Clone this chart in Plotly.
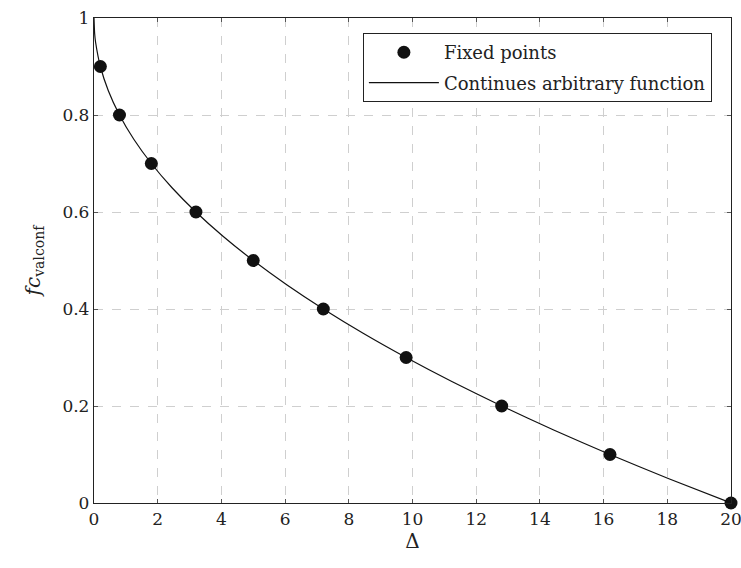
import plotly.graph_objects as go

# Fixed points (Δ, fc_valconf)
fixed_delta = [0.2, 0.8, 1.8, 3.2, 5.0, 7.2, 9.8, 12.8, 16.2, 20.0]
fixed_fc = [0.9, 0.8, 0.7, 0.6, 0.5, 0.4, 0.3, 0.2, 0.1, 0.0]

# Continuous curve samples
curve_delta = [0.0, 0.02, 0.05, 0.2, 0.45, 0.8, 1.25, 1.8, 2.45, 3.2, 4.05,
               5.0, 6.05, 7.2, 8.45, 9.8, 11.25, 12.8, 14.45, 16.2, 18.05, 20.0]
curve_fc = [1.0, 0.968, 0.95, 0.9, 0.85, 0.8, 0.75, 0.7, 0.65, 0.6, 0.55,
            0.5, 0.45, 0.4, 0.35, 0.3, 0.25, 0.2, 0.15, 0.1, 0.05, 0.0]

x_ticks = [0, 2, 4, 6, 8, 10, 12, 14, 16, 18, 20]
y_ticks = [0, 0.2, 0.4, 0.6, 0.8, 1]
y_tick_text = ["0", "0.2", "0.4", "0.6", "0.8", "1"]

FONT = "DejaVu Serif"

fig = go.Figure()
fig.add_trace(go.Scatter(
    x=fixed_delta, y=fixed_fc, mode="markers", name="Fixed points",
    legendgroup="pts",
    marker=dict(color="#111111", size=13, line=dict(width=0)),
    cliponaxis=False,
))
fig.add_trace(go.Scatter(
    x=curve_delta, y=curve_fc, mode="lines", name="Continues arbitrary function",
    legendgroup="fn",
    line=dict(color="#111111", width=1.2, shape="spline", smoothing=0.6),
))

axis_common = dict(
    showline=True, linecolor="#222222", linewidth=1.3, mirror="ticks",
    ticks="inside", ticklen=4, tickcolor="#555555",
    showgrid=True, gridcolor="#cfcfcf", griddash="dash", gridwidth=1,
    zeroline=False, automargin=False, ticklabeloverflow="allow",
    tickfont=dict(family=FONT, size=17, color="#222222"),
)

fig.update_layout(
    width=741, height=568,
    margin=dict(l=94, r=10, t=18, b=65),
    paper_bgcolor="white", plot_bgcolor="white",
    font=dict(family=FONT, size=17, color="#222222"),
    xaxis=dict(range=[0, 20], tickvals=x_ticks, ticktext=[str(v) for v in x_ticks],
               title=dict(text="Δ", standoff=2), **axis_common),
    yaxis=dict(range=[0, 1], tickvals=y_ticks, ticktext=y_tick_text,
               title=dict(text="<i>fc</i><sub>valconf</sub>", standoff=16), **axis_common),
    legend=dict(x=0.97, y=0.969, xanchor="right", yanchor="top",
                bordercolor="#222222", borderwidth=1, bgcolor="white",
                font=dict(family=FONT, size=18, color="#222222"),
                itemwidth=70, traceorder="grouped", tracegroupgap=4),
    showlegend=True,
)

fig.write_html("out.html")
